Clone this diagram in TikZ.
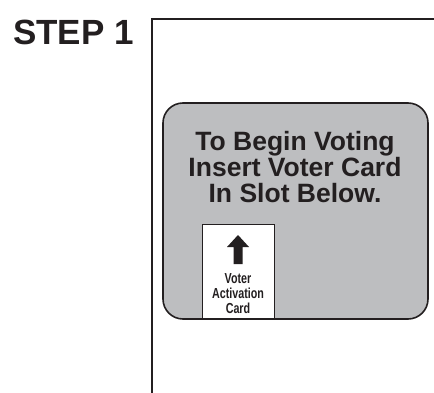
\documentclass[tikz,border=0pt]{standalone}
\usepackage{fontspec}
\setmainfont{Liberation Sans}
\newfontfamily\cardfont[FakeStretch=0.74]{Liberation Sans}
\usetikzlibrary{positioning}
\definecolor{votegray}{RGB}{189,190,192}
\definecolor{votedark}{RGB}{35,31,32}
\tikzset{
  panel/.style={draw=votedark, fill=votegray, line width=1.6pt, rounded corners=20pt},
  cardbox/.style={draw=votedark, fill=white, line width=1.1pt},
  bigtext/.style={text=votedark, font=\bfseries\fontsize{26.5}{26}\selectfont, align=center},
  cardtext/.style={text=votedark, font=\cardfont\bfseries\fontsize{14.5}{15}\selectfont, align=center}
}
\begin{document}
\begin{tikzpicture}[x=1pt,y=-1pt]
	\useasboundingbox (0,0) rectangle (434,393);
	\node[anchor=base west, text=votedark, inner sep=0pt,
	      font=\bfseries\fontsize{35}{35}\selectfont] (step) at (13,45) {STEP 1};
	% machine face
	\draw[votedark, line width=1.5pt] (152,393) -- (152,19) -- (434,19);
	\fill[votegray] (163,103) [rounded corners=20pt] rectangle (428,319);
	\node[cardbox, anchor=north west, minimum width=72pt, minimum height=95pt, inner sep=0pt] (card) at (202,224) {};
	\draw[panel, fill=none] (163,103) rectangle (428,319);
	% base anchor sits on the last line
	\node[bigtext, anchor=base, inner sep=0pt] (prompt) at (295,203) {To Begin Voting\\Insert Voter Card\\In Slot Below.};
	% arrow
	\fill[votedark] (238,235) -- (249,247) -- (242.5,247) -- (242.5,264) -- (233.5,264) -- (233.5,247) -- (227,247) -- cycle;
	\node[cardtext, anchor=base, inner sep=0pt] (cardlabel) at (238,313) {Voter\\Activation\\Card};
\end{tikzpicture}
\end{document}
